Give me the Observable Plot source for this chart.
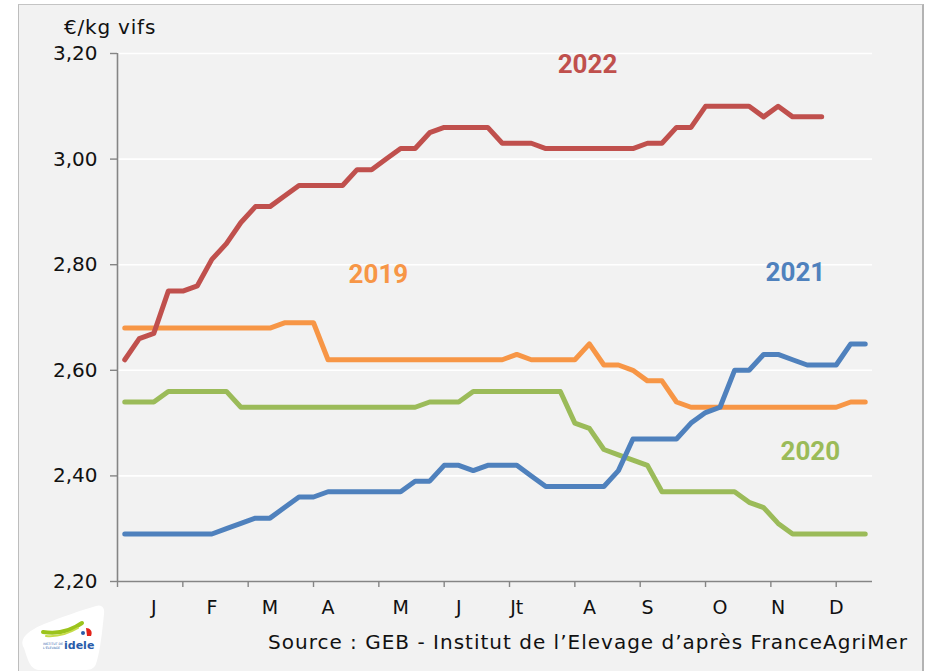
<!DOCTYPE html>
<html>
<head>
<meta charset="utf-8">
<script src="https://cdn.jsdelivr.net/npm/d3@7"></script>
<script src="https://cdn.jsdelivr.net/npm/@observablehq/plot@0.6"></script>
<style>
  html, body { margin: 0; padding: 0; background: #ffffff; }
  body { width: 926px; height: 671px; overflow: hidden; position: relative; font-family: "DejaVu Sans", sans-serif; }
  #frame { position: absolute; left: 18px; top: 4px; width: 903px; height: 700px; background: #f2f2f2;
           border-left: 1px solid #bdbdbd; border-top: 1px solid #c4c4c4; border-right: 2px solid #b3b3b3; }
  #chart { position: absolute; left: 0; top: 0; }
  #unit { position: absolute; left: 64px; top: 15px; font-size: 20px; letter-spacing: 0.8px; color: #111; white-space: nowrap; }
  #source { position: absolute; left: 268px; top: 630px; font-size: 20px; color: #111; white-space: nowrap; }
  #logo { position: absolute; left: 10px; top: 600px; }
</style>
</head>
<body>
<div id="frame"></div>
<div id="chart"></div>
<div id="unit">€/kg vifs</div>
<div id="source">Source : GEB - Institut de l’Elevage d’après FranceAgriMer</div>
<svg id="logo" width="100" height="71" viewBox="0 0 100 71">
  <path d="M14 48 C 8 38, 20 30, 34 24 C 52 17, 72 10, 86 6 C 92 4, 95 8, 94 14 C 92 34, 90 52, 86 64 C 84 69, 80 70, 74 70 L 30 70 C 20 70, 18 60, 14 48 Z" fill="#ffffff"/>
  <path d="M33 32 C 45 34, 58 33, 72 23" stroke="#9bc31c" stroke-width="4" fill="none" stroke-linecap="round"/>
  <path d="M36 36 C 48 37, 58 34, 68 28" stroke="#c6dc4a" stroke-width="2" fill="none" stroke-linecap="round"/>
  <path d="M76 28 C 80 28, 83 31, 81 36 L 77 36 Z" fill="#e2231a"/>
  <circle cx="73" cy="33" r="2" fill="#2a5caa"/>
  <text x="33" y="45" font-size="3.2" fill="#2a5caa" font-family="DejaVu Sans">INSTITUT DE</text>
  <text x="33" y="49" font-size="3.2" fill="#2a5caa" font-family="DejaVu Sans">L'ÉLEVAGE</text>
  <text x="54" y="49" font-size="11" font-weight="bold" fill="#2a5caa" font-family="DejaVu Sans">idele</text>
</svg>
<script>
// Weekly slaughter-cattle price, €/kg vif (weeks 1..52)
const years = ["2019", "2020", "2021", "2022"];
const colors = ["#F79646", "#9BBB59", "#4F81BD", "#C0504D"];

const y2019 = [2.68,2.68,2.68,2.68,2.68,2.68,2.68,2.68,2.68,2.68,2.68,
  2.69,2.69,2.69,
  2.62,2.62,2.62,2.62,2.62,2.62,2.62,2.62,2.62,2.62,2.62,2.62,2.62,
  2.63,2.62,2.62,2.62,2.62,2.65,2.61,2.61,2.60,2.58,2.58,2.54,
  2.53,2.53,2.53,2.53,2.53,2.53,2.53,2.53,2.53,2.53,2.53,
  2.54,2.54];
const y2020 = [2.54,2.54,2.54,2.56,2.56,2.56,2.56,2.56,
  2.53,2.53,2.53,2.53,2.53,2.53,2.53,2.53,2.53,2.53,2.53,2.53,2.53,
  2.54,2.54,2.54,2.56,2.56,2.56,2.56,2.56,2.56,2.56,
  2.50,2.49,2.45,2.44,2.43,2.42,
  2.37,2.37,2.37,2.37,2.37,2.37,2.35,2.34,2.31,
  2.29,2.29,2.29,2.29,2.29,2.29];
const y2021 = [2.29,2.29,2.29,2.29,2.29,2.29,2.29,2.30,2.31,2.32,2.32,2.34,2.36,2.36,
  2.37,2.37,2.37,2.37,2.37,2.37,2.39,2.39,2.42,2.42,2.41,2.42,2.42,2.42,2.40,
  2.38,2.38,2.38,2.38,2.38,2.41,2.47,2.47,2.47,2.47,2.50,2.52,2.53,
  2.60,2.60,2.63,2.63,2.62,2.61,2.61,2.61,2.65,2.65];
const y2022 = [2.62,2.66,2.67,2.75,2.75,2.76,2.81,2.84,2.88,2.91,2.91,2.93,
  2.95,2.95,2.95,2.95,2.98,2.98,3.00,3.02,3.02,3.05,3.06,3.06,3.06,3.06,
  3.03,3.03,3.03,3.02,3.02,3.02,3.02,3.02,3.02,3.02,3.03,3.03,3.06,3.06,
  3.10,3.10,3.10,3.10,3.08,3.10,3.08,3.08,3.08];

const series = [y2019, y2020, y2021, y2022];

// Month labels sit at these week categories (0-based)
const monthLabels = ["J","F","M","A","M","J","Jt","A","S","O","N","D"];
const monthLabelWeeks = [2,6,10,14,19,23,27,32,36,41,45,49];
// Tick marks every 4.5 weeks
const tickWeeks = [0,4.5,9,13.5,18,22.5,27,31.5,36,40.5,45,49.5];
const yTicks = [2.2,2.4,2.6,2.8,3.0,3.2];

// Series name annotations (week, value)
const labelWeek = [17.97, 47.72, 46.69, 32.37];
const labelValue = [2.7805, 2.4468, 2.7843, 3.1782];

const rows = [];
series.forEach((vals, s) => vals.forEach((v, i) => rows.push({year: years[s], week: i + 0.5, value: v})));
const labels = years.map((y, s) => ({year: y, week: labelWeek[s], value: labelValue[s]}));
const labelByWeek = new Map(monthLabelWeeks.map((w, i) => [w + 0.5, monthLabels[i]]));
const fmt = d => d3.format(".2f")(d).replace(".", ",");
const font = "'DejaVu Sans', sans-serif";

const chart = Plot.plot({
  width: 926, height: 671,
  marginLeft: 117, marginRight: 54, marginTop: 53, marginBottom: 90,
  style: {background: "transparent", fontFamily: font, color: "#111", overflow: "visible"},
  x: {domain: [0, 52], label: null},
  y: {domain: [2.2, 3.2], label: null},
  color: {domain: years, range: colors},
  marks: [
    Plot.gridY(yTicks, {stroke: "#ffffff", strokeOpacity: 1, strokeWidth: 1.6}),
    Plot.line(rows, {x: "week", y: "value", z: "year", stroke: "year", strokeWidth: 5,
      strokeLinecap: "round", strokeLinejoin: "round"}),
    Plot.ruleX([0], {stroke: "#858585", strokeWidth: 1.6}),
    Plot.ruleY([2.2], {stroke: "#858585", strokeWidth: 1.6}),
    Plot.axisY(yTicks, {tickSize: 7, tickPadding: 13, tickFormat: fmt, fontSize: 20, label: null,
      stroke: "#858585", fill: "#111", strokeWidth: 1.4}),
    Plot.axisX(tickWeeks, {tickSize: 6, tickFormat: () => "", label: null, stroke: "#858585", strokeWidth: 1.4}),
    Plot.axisX([...labelByWeek.keys()], {tickSize: 0, tickPadding: 19, fontSize: 19, fill: "#111", label: null,
      tickFormat: d => labelByWeek.get(d)}),
    Plot.text(labels, {x: "week", y: "value", text: "year", fill: "year", fontSize: 26,
      fontWeight: "bold", fontFamily: "Roboto", lineAnchor: "middle", textAnchor: "middle"})
  ]
});
document.getElementById("chart").appendChild(chart);

// stretch the source line to the reference width
const src = document.getElementById("source");
const w = src.getBoundingClientRect().width;
const n = src.textContent.length;
src.style.letterSpacing = ((640 - w) / n) + "px";
</script>
</body>
</html>
